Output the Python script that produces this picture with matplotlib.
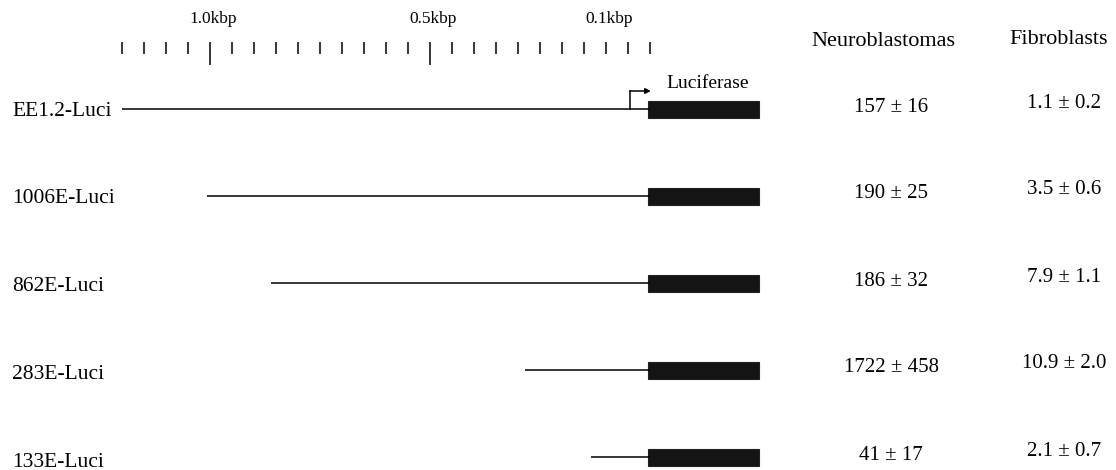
import matplotlib
matplotlib.use("Agg")
import matplotlib.pyplot as plt
from matplotlib.patches import Rectangle
import numpy as np

plt.rcParams['font.family'] = ['Liberation Serif', 'DejaVu Serif']

# ---- data ----
constructs = ["EE1.2-Luci", "1006E-Luci", "862E-Luci", "283E-Luci", "133E-Luci"]
promoter_bp = [1200, 1006, 862, 283, 133]          # upstream length (bp)
neuro_vals = ["157 \u00b1 16", "190 \u00b1 25", "186 \u00b1 32", "1722 \u00b1 458", "41 \u00b1 17"]
fibro_vals = ["1.1 \u00b1 0.2", "3.5 \u00b1 0.6", "7.9 \u00b1 1.1", "10.9 \u00b1 2.0", "2.1 \u00b1 0.7"]
col_headers = ["Neuroblastomas", "Fibroblasts"]
ruler_ticks_bp = list(range(1200, -1, -50))
ruler_major_bp = [1000, 500]
ruler_labels = ["1.0kbp", "0.5kbp", "0.1kbp"]
ruler_label_bp = [1000, 500, 100]
luc_len = 248          # drawing length of luciferase box (scale units)
tss_offset = 45        # transcription start arrow position (bp upstream)

# ---- figure ----
W, H = 1116, 470
fig = plt.figure(figsize=(W / 100, H / 100), dpi=100)
ax = fig.add_axes([0, 0, 1, 1])
ax.set_axis_off()

px_per_bp = 0.44
x0_px = 650
row0_px, row_step = 109, 87
ax.set_xlim((0 - x0_px) / px_per_bp, (W - x0_px) / px_per_bp)
ax.set_ylim((H - row0_px) / row_step, (0 - row0_px) / row_step)

def ypx(p):
    return (p - row0_px) / row_step

# ruler
for bp in ruler_ticks_bp:
    top = ypx(42)
    bot = ypx(65) if bp in ruler_major_bp else ypx(54)
    ax.plot([-bp, -bp], [top, bot], color='black', lw=1.1, solid_capstyle='butt')
for lab, bp in zip(ruler_labels, ruler_label_bp):
    ax.text(-bp + 8, ypx(19), lab, ha='center', va='center', fontsize=12.5)

# constructs
box_h = 17 / row_step
for i, (name, bp) in enumerate(zip(constructs, promoter_bp)):
    ax.plot([-bp, 0], [i, i], color='black', lw=1.1, solid_capstyle='butt')
    ax.add_patch(Rectangle((-4, i - box_h / 2), luc_len + 4, box_h,
                           facecolor='#141414', edgecolor='#222222', lw=0.8))
    ax.text(12 / W, 1 - (row0_px + row_step * i + 2 + i * 0.8) / H, name,
            transform=ax.transAxes, ha='left', va='center', fontsize=15.5)
    ax.text(891 / W, 1 - (row0_px + row_step * i - 2) / H, neuro_vals[i],
            transform=ax.transAxes, ha='center', va='center', fontsize=15)
    ax.text(1064 / W, 1 - (row0_px + row_step * i - 6) / H, fibro_vals[i],
            transform=ax.transAxes, ha='center', va='center', fontsize=15)

# transcription start arrow
ax.plot([-tss_offset, -tss_offset], [0, ypx(91)], color='black', lw=1.1)
ax.annotate("", xy=(2, ypx(91)), xytext=(-tss_offset - 1, ypx(91)),
            arrowprops=dict(arrowstyle='-|>', color='black', lw=1.1,
                            mutation_scale=8, shrinkA=0, shrinkB=0))
ax.text(luc_len / 2 + 6, ypx(83), "Luciferase", ha='center', va='center', fontsize=14)

# headers
ax.text(883 / W, 1 - 42 / H, col_headers[0], transform=ax.transAxes,
        ha='center', va='center', fontsize=16)
ax.text(1059 / W, 1 - 40 / H, col_headers[1], transform=ax.transAxes,
        ha='center', va='center', fontsize=16)

fig.savefig("out.png", dpi=100, facecolor='white')
